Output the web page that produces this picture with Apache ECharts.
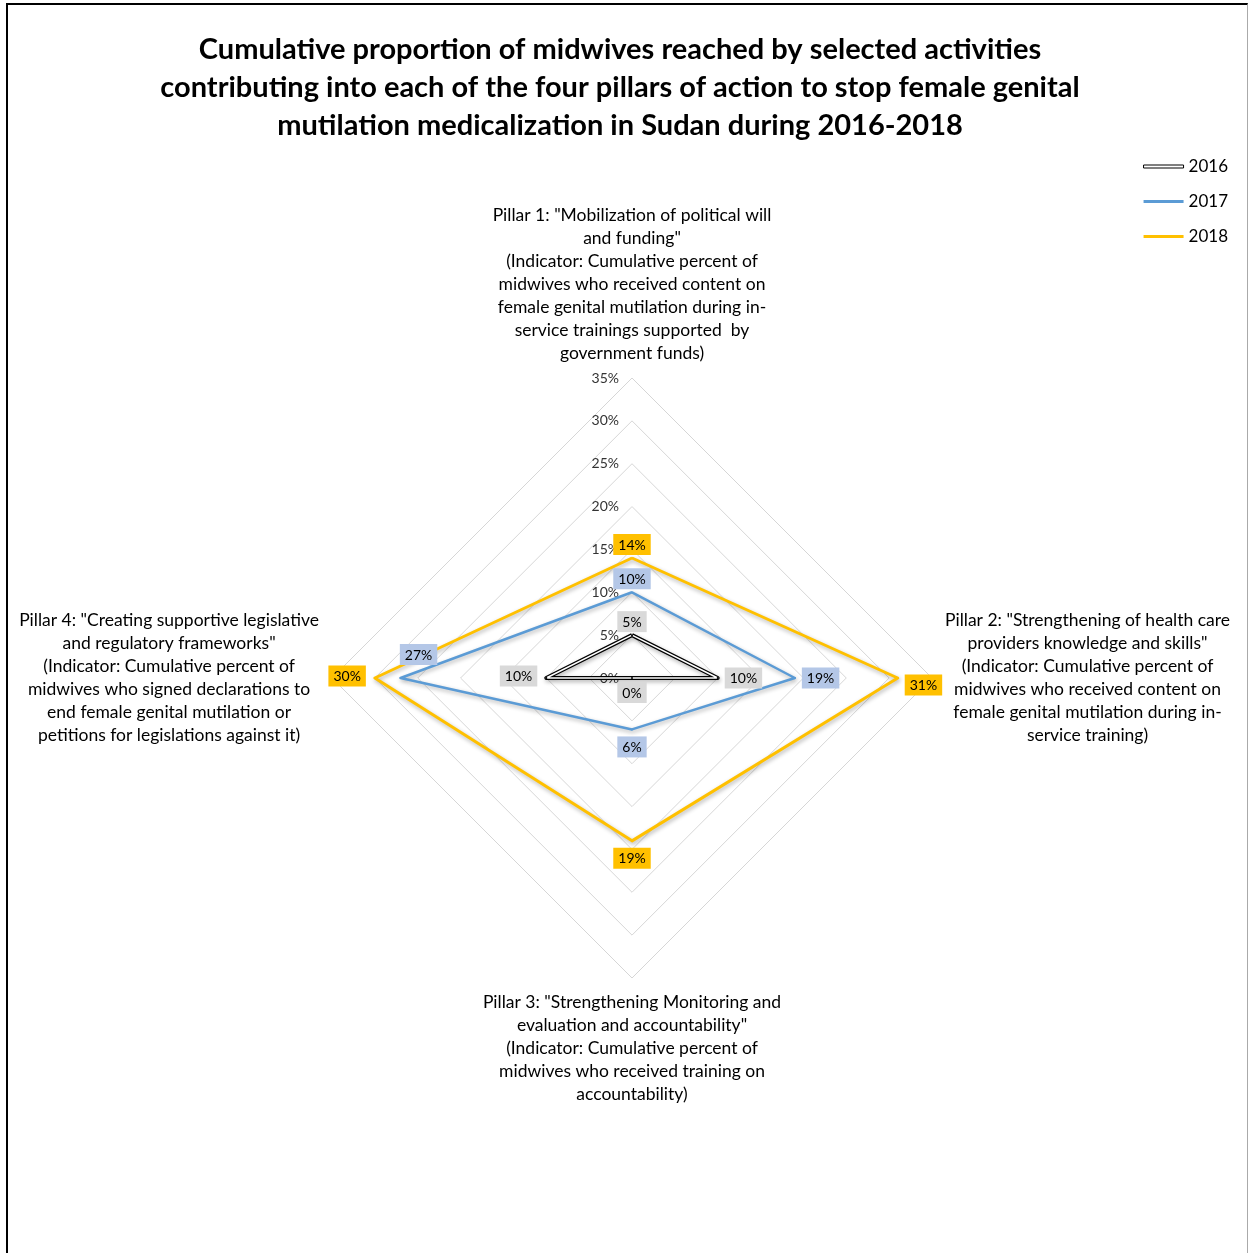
<!DOCTYPE html>
<html>
<head>
<meta charset="utf-8">
<script src="https://cdn.jsdelivr.net/npm/echarts@6/dist/echarts.min.js"></script>
<style>
  html, body { margin: 0; padding: 0; background: #fff; }
  #chart { width: 1249px; height: 1253px; }
  #frame { position: absolute; left: 6px; top: 3px; width: 1239px; height: 1260px;
           border-top: 2px solid #000; border-left: 2px solid #000; border-right: 1px solid #aaa;
           pointer-events: none; }
</style>
</head>
<body>
<div id="chart"></div>
<div id="frame"></div>
<script>
// datos del grafico (en orden de pilar 1..4)
var pillars = [
  'Pillar 1: "Mobilization of political will\nand funding"\n(Indicator: Cumulative percent of\nmidwives who received content on\nfemale genital mutilation during in-\nservice trainings supported  by\ngovernment funds)',
  'Pillar 2: "Strengthening of health care\nproviders knowledge and skills"\n(Indicator: Cumulative percent of\nmidwives who received content on\nfemale genital mutilation during in-\nservice training)',
  'Pillar 3: "Strengthening Monitoring and\nevaluation and accountability"\n(Indicator: Cumulative percent of\nmidwives who received training on\naccountability)',
  'Pillar 4: "Creating supportive legislative\nand regulatory frameworks"\n(Indicator: Cumulative percent of\nmidwives who signed declarations to\nend female genital mutilation or\npetitions for legislations against it)'
];
var years = ['2016', '2017', '2018'];
var values2016 = [5, 10, 0, 10];
var values2017 = [10, 19, 6, 27];
var values2018 = [14, 31, 19, 30];
var axisMax = 35;
var axisStep = 5;

// el radar de echarts va en sentido antihorario: pilar 1 arriba, 2 a la derecha
var order = [0, 3, 2, 1];
function reorder(arr) { return order.map(function (i) { return arr[i]; }); }

var CX = 632, CY = 678;
var FONT = 'Lato';

// posicion de las etiquetas hacia afuera del centro
function placeLabel(p) {
  var x = p.rect.x + p.rect.width / 2;
  var y = p.rect.y + p.rect.height / 2;
  var dx = x - CX, dy = y - CY;
  if (Math.abs(dx) < 1 && Math.abs(dy) < 1) {
    return { x: x, y: y + 4, align: 'center', verticalAlign: 'top' };
  }
  if (Math.abs(dy) >= Math.abs(dx)) {
    if (dy < 0) return { x: x, y: y - 3, align: 'center', verticalAlign: 'bottom' };
    return { x: x, y: y + 7, align: 'center', verticalAlign: 'top' };
  }
  if (dx > 0) return { x: x + 7, y: p.seriesIndex === 0 ? y + 7 : y, align: 'left', verticalAlign: 'middle' };
  if (p.seriesIndex === 1) return { x: x + 18, y: y - 13, align: 'center', verticalAlign: 'bottom' };
  return { x: x - 9, y: y - 2, align: 'right', verticalAlign: 'middle' };
}

function yearSeries(name, values, color, width, labelBg) {
  return {
    type: 'radar',
    name: name,
    symbol: 'circle',
    symbolSize: 2,
    itemStyle: { color: color },
    lineStyle: { color: color, width: width, shadowColor: 'rgba(0,0,0,0.3)', shadowBlur: 4, shadowOffsetX: 1, shadowOffsetY: 2 },
    label: {
      show: true,
      formatter: '{c}%',
      fontFamily: FONT,
      fontSize: 14,
      color: '#000',
      backgroundColor: labelBg,
      padding: [4, 5, 3, 5]
    },
    labelLayout: placeLabel,
    data: [{ value: reorder(values), name: name }]
  };
}

document.addEventListener("DOMContentLoaded", () => {
  var chart = echarts.init(document.querySelector("#chart"));

  chart.setOption({
    animation: false,
    textStyle: { fontFamily: FONT },
    title: {
      text: 'Cumulative proportion of midwives reached by selected activities\ncontributing into each of the four pillars of action to stop female genital\nmutilation medicalization in Sudan during 2016-2018',
      left: 615,
      top: 26,
      textAlign: 'center',
      textStyle: { fontFamily: FONT, fontSize: 29, fontWeight: 'bold', color: '#000', lineHeight: 38 }
    },
    legend: {
      orient: 'vertical',
      right: 16,
      top: 153,
      itemGap: 18,
      itemWidth: 40,
      itemHeight: 3,
      textStyle: { fontFamily: FONT, fontSize: 17, color: '#000' },
      data: [
        { name: '2016', icon: 'rect', itemStyle: { color: '#fff', borderColor: '#000', borderWidth: 1 } },
        { name: '2017', icon: 'rect', itemStyle: { color: '#5b9bd5', borderWidth: 0 } },
        { name: '2018', icon: 'rect', itemStyle: { color: '#ffc000', borderWidth: 0 } }
      ]
    },
    radar: {
      center: [CX, CY],
      radius: 300,
      shape: 'polygon',
      startAngle: 90,
      splitNumber: axisMax / axisStep,
      axisNameGap: 13,
      axisName: {
        formatter: function (name) {
          return name.split('\n').map(function (l) { return '{c|' + l + '}'; }).join('\n');
        },
        rich: {
          c: { fontFamily: FONT, fontSize: 17.5, lineHeight: 23, color: '#000', align: 'center' }
        }
      },
      indicator: reorder(pillars).map(function (p, i) {
        return { name: p, min: 0, max: axisMax, axisLabel: { show: i === 0 } };
      }),
      axisLine: { show: false },
      axisTick: { show: false },
      axisLabel: { show: false, formatter: '{value}%', fontFamily: FONT, fontSize: 14, color: '#333', margin: 13 },
      splitLine: { lineStyle: { color: '#d6d6d6', width: 1 } },
      splitArea: { show: false }
    },
    series: [
      yearSeries('2018', values2018, '#ffc000', 3, '#ffc000'),
      yearSeries('2017', values2017, '#5b9bd5', 2.5, '#b4c7e7'),
      yearSeries('2016', values2016, '#000', 4, '#d9d9d9'),
      {
        // linea interior blanca para el doble trazo de 2016
        type: 'radar',
        name: '2016 inner',
        silent: true,
        symbol: 'none',
        lineStyle: { color: '#fff', width: 1.5 },
        data: [{ value: reorder(values2016) }]
      }
    ]
  });
});
</script>
</body>
</html>
